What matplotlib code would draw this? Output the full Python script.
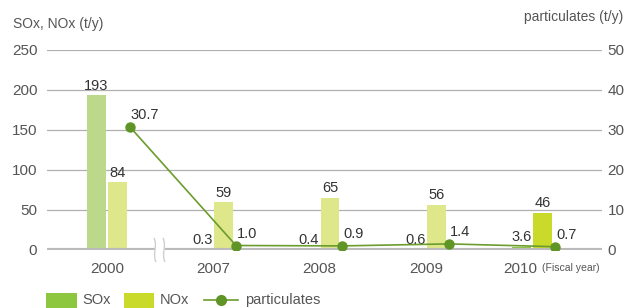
import matplotlib.pyplot as plt
import matplotlib.patches as mpatches
import matplotlib.transforms as mtransforms
from matplotlib.path import Path
import numpy as np

# data
years = ["2000", "2007", "2008", "2009", "2010"]
sox = [193, 0.3, 0.4, 0.6, 3.6]
nox = [84, 59, 65, 56, 46]
particulates = [30.7, 1.0, 0.9, 1.4, 0.7]
sox_labels = ["193", "0.3", "0.4", "0.6", "3.6"]
nox_labels = ["84", "59", "65", "56", "46"]
part_labels = ["30.7", "1.0", "0.9", "1.4", "0.7"]

# colours: pale for past years, full for latest year
sox_colors = ["#bcd98b"] * 4 + ["#8dc63f"]
nox_colors = ["#dfe78b"] * 4 + ["#c9da2b"]
line_color = "#6b9c2d"
marker_color = "#5f9427"
text_color = "#333333"
tick_color = "#555555"
grid_color = "#b0b0b0"

plt.rcParams['font.family'] = ['Liberation Sans', 'DejaVu Sans']

W, H = 625, 308
fig = plt.figure(figsize=(W / 100, H / 100), dpi=100)
ax = fig.add_axes([47 / W, 1 - 249.5 / H, 555 / W, 200 / H])
ax2 = ax.twinx()

x = np.arange(len(years))
bw = 0.178
off = 0.0985
ax.bar(x - off, sox, bw, color=sox_colors, zorder=2)
ax.bar(x + off, nox, bw, color=nox_colors, zorder=2)

for xi, v, lab in zip(x, sox, sox_labels):
    ax.text(xi - off, v + 3, lab, ha="center", va="bottom", fontsize=10.5,
            color=text_color, zorder=5)
for xi, v, lab in zip(x, nox, nox_labels):
    ax.text(xi + off, v + 3, lab, ha="center", va="bottom", fontsize=10.5,
            color=text_color, zorder=5)

px = x + 0.215
ax2.plot(px, particulates, color=line_color, lw=1.2, marker="o",
         markersize=6.5, markerfacecolor=marker_color,
         markeredgecolor=marker_color, zorder=4)
for xi, v, lab in zip(px, particulates, part_labels):
    ax2.text(xi + 0.01, v + 1.2, lab, ha="left", va="bottom", fontsize=10.5,
             color=text_color, zorder=5)

ax.set_xlim(-0.563, 4.657)
ax.set_ylim(0, 250)
ax2.set_ylim(0, 50)
ax.set_yticks([0, 50, 100, 150, 200, 250])
ax2.set_yticks([0, 10, 20, 30, 40, 50])
ax.set_xticks(x)
ax.set_xticklabels(years)

ax.grid(axis="y", color=grid_color, lw=0.9, zorder=0)
ax.set_axisbelow(True)
ax.axhline(0, color="#bbbbbb", lw=3, zorder=3)
for a in (ax, ax2):
    for s in a.spines.values():
        s.set_visible(False)
    a.tick_params(length=0, labelsize=11, labelcolor=tick_color)
ax.tick_params(axis="y", pad=7)
ax2.tick_params(axis="y", pad=4)
ax.tick_params(axis="x", pad=9)

# last year label sits left so "(Fiscal year)" fits after it
last = ax.get_xticklabels()[-1]
last.set_ha("right")
last.set_transform(last.get_transform() +
                   mtransforms.ScaledTranslation(0.05, 0, fig.dpi_scale_trans))

fig.text(13 / W, 1 - 24 / H, "SOx, NOx (t/y)", fontsize=10, color=tick_color,
         ha="left", va="center")
fig.text(623 / W, 1 - 17 / H, "particulates (t/y)", fontsize=10,
         color=tick_color, ha="right", va="center")
fig.text(542 / W, 1 - 268 / H, "(Fiscal year)", fontsize=7.5,
         color=tick_color, ha="left", va="center")

# axis break mark between 2000 and 2007
tr = fig.transFigure
fig.add_artist(mpatches.Rectangle((155 / W, 1 - 262 / H), 10 / W, 24 / H,
                                  transform=tr, facecolor="white",
                                  edgecolor="none", zorder=10))
for dx in (0, 9):
    verts = [((154 + dx) / W, 1 - 238 / H), ((158 + dx) / W, 1 - 246 / H),
             ((152 + dx) / W, 1 - 254 / H), ((156 + dx) / W, 1 - 262 / H)]
    path = Path(verts, [Path.MOVETO, Path.CURVE4, Path.CURVE4, Path.CURVE4])
    fig.add_artist(mpatches.PathPatch(path, transform=tr, facecolor="none",
                                      edgecolor="#cfcfcf", lw=1, zorder=11))

# legend drawn by hand at the bottom
legend_y = 1 - 300 / H
fig.add_artist(mpatches.Rectangle((46 / W, 1 - 308 / H), 31 / W, 15 / H,
                                  transform=tr, facecolor="#8dc63f",
                                  edgecolor="none"))
fig.text(82 / W, legend_y, "SOx", fontsize=10.5, color=tick_color,
         va="center", ha="left")
fig.add_artist(mpatches.Rectangle((124 / W, 1 - 308 / H), 30 / W, 15 / H,
                                  transform=tr, facecolor="#c9da2b",
                                  edgecolor="none"))
fig.text(160 / W, legend_y, "NOx", fontsize=10.5, color=tick_color,
         va="center", ha="left")
fig.add_artist(plt.Line2D([204 / W, 238 / W], [legend_y, legend_y],
                          transform=tr, color=line_color, lw=1.2))
fig.add_artist(plt.Line2D([221 / W], [legend_y], transform=tr, marker="o",
                          markersize=7, color=marker_color))
fig.text(245 / W, legend_y, "particulates", fontsize=10.5, color=tick_color,
         va="center", ha="left")

fig.savefig("out.png", dpi=100)
